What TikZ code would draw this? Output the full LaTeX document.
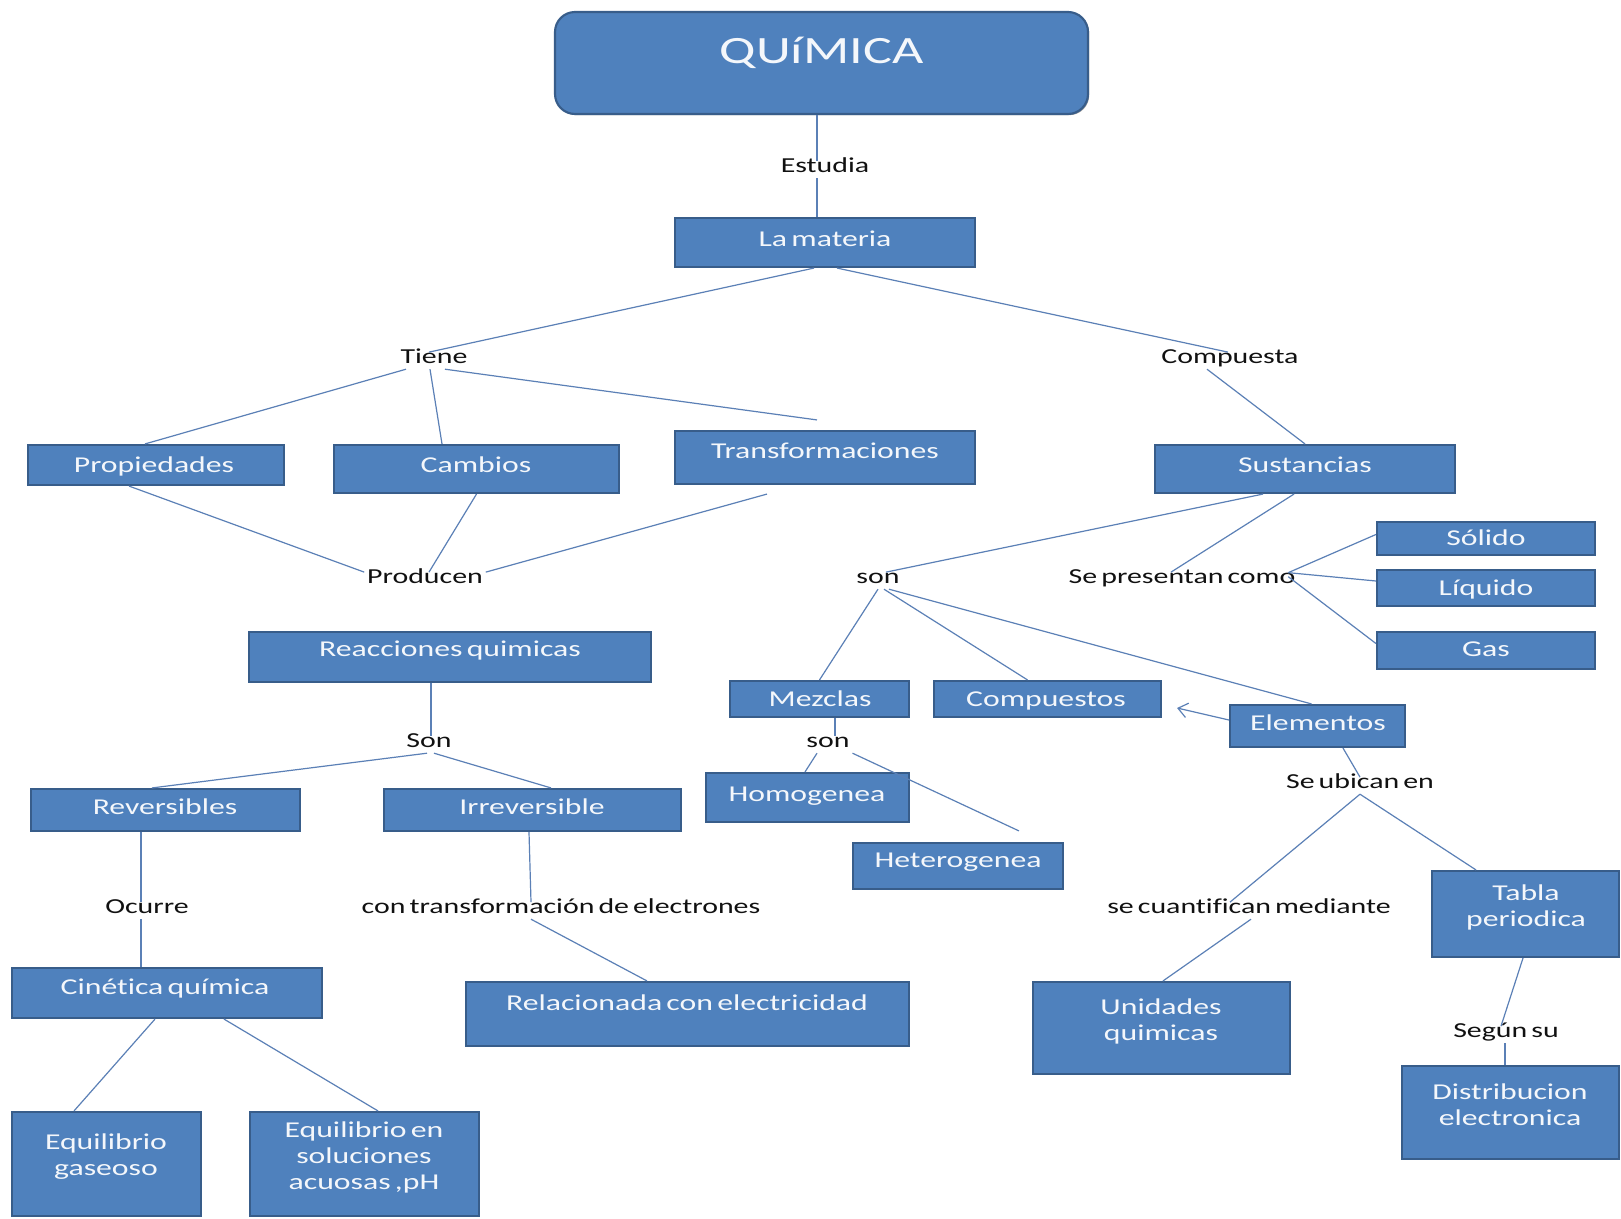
\documentclass[tikz,border=0pt]{standalone}
\usepackage{fontspec}
\setmainfont{Carlito}[FakeStretch=1.4,WordSpace=0.6,Ligatures=NoCommon]
\usetikzlibrary{calc,arrows.meta,shadows}
\definecolor{boxfill}{HTML}{4F81BD}
\definecolor{boxline}{HTML}{385D8A}
\definecolor{conn}{HTML}{5B80B6}
\definecolor{btext}{HTML}{F4F7FB}
\definecolor{ltext}{HTML}{111111}
\begin{document}
\begin{tikzpicture}[x=0.75pt,y=-0.75pt,
  box/.style={draw=boxline,fill=boxfill,line width=1.6pt,rectangle,inner sep=0pt,
    drop shadow={shadow xshift=0.9pt,shadow yshift=-0.9pt,opacity=0.4,fill=black}},
  bx/.style 2 args={minimum width=#1*0.75pt,minimum height=#2*0.75pt},
  btxt/.style={text=btext,inner sep=0pt,align=center,font=\fontsize{17}{19.5}\selectfont},
  bmulti/.style={btxt,yshift=-1.5pt},
  bone/.style={btxt,text height=0.66em,text depth=0.18em,yshift=-3.5pt},
  lbl/.style={text=ltext,inner sep=2pt,text height=0.66em,text depth=0.18em,yshift=-3.5pt,font=\fontsize{16}{19}\selectfont},
  cn/.style={draw=conn,line width=0.9pt}]
\useasboundingbox[fill=white] (0,0) rectangle (1621,1219);

% ---- boxes ----
\node[box,bx={533}{102},rounded corners=15pt] (quim) at (821.5,63) {};
\node[text=btext,inner sep=0pt,font=\fontsize{29}{34}\selectfont] (quimT) at (821.5,53) {QUíMICA};
\node[box,bx={300}{49}] (materia) at (825,242.5) {};
\node[bone] (materiaT) at (825,239) {La materia};
\node[box,bx={256}{40}] (prop) at (156,465) {};
\node[bone] (propT) at (154,465) {Propiedades};
\node[box,bx={285}{48}] (camb) at (476.5,469) {};
\node[bone] (cambT) at (476,465) {Cambios};
\node[box,bx={300}{53}] (trans) at (825,457.5) {};
\node[bone] (transT) at (825,451) {Transformaciones};
\node[box,bx={300}{48}] (sust) at (1305,469) {};
\node[bone] (sustT) at (1305,465) {Sustancias};
\node[box,bx={218}{33}] (solido) at (1486,538.5) {};
\node[bone] (solidoT) at (1486,538) {Sólido};
\node[box,bx={218}{36}] (liquido) at (1486,588) {};
\node[bone] (liquidoT) at (1486,588) {Líquido};
\node[box,bx={218}{37}] (gas) at (1486,650.5) {};
\node[bone] (gasT) at (1486,649) {Gas};
\node[box,bx={402}{50}] (reac) at (450,657) {};
\node[bone] (reacT) at (450,649) {Reacciones quimicas};
\node[box,bx={179}{36}] (mezclas) at (819.5,699) {};
\node[bone] (mezclasT) at (820,699) {Mezclas};
\node[box,bx={227}{36}] (comp) at (1047.5,699) {};
\node[bone] (compT) at (1046,699) {Compuestos};
\node[box,bx={175}{42}] (elem) at (1317.5,726) {};
\node[bone] (elemT) at (1318,723) {Elementos};
\node[box,bx={203}{49}] (homog) at (807.5,797.5) {};
\node[bone] (homogT) at (807,794) {Homogenea};
\node[box,bx={210}{46}] (heter) at (958,866) {};
\node[bone] (heterT) at (958,860) {Heterogenea};
\node[box,bx={269}{42}] (rev) at (165.5,810) {};
\node[bone] (revT) at (165,807) {Reversibles};
\node[box,bx={297}{42}] (irrev) at (532.5,810) {};
\node[bone] (irrevT) at (532,807) {Irreversible};
\node[box,bx={187}{86}] (tabla) at (1525.5,914) {};
\node[bmulti] (tablaT) at (1526,905) {Tabla\\periodica};
\node[box,bx={310}{50}] (cinet) at (167,993) {};
\node[bone] (cinetT) at (165,987) {Cinética química};
\node[box,bx={443}{64}] (relac) at (687.5,1014) {};
\node[bone] (relacT) at (687,1003) {Relacionada con electricidad};
\node[box,bx={257}{92}] (unid) at (1161.5,1028) {};
\node[bmulti] (unidT) at (1161,1019) {Unidades\\quimicas};
\node[box,bx={217}{93}] (distrib) at (1510.5,1112.5) {};
\node[bmulti] (distribT) at (1510,1103) {Distribucion\\electronica};
\node[box,bx={189}{104}] (eqgas) at (106.5,1164) {};
\node[bmulti] (eqgasT) at (106,1155) {Equilibrio\\gaseoso};
\node[box,bx={229}{104}] (eqsol) at (364.5,1164) {};
\node[bmulti] (eqsolT) at (364,1155) {Equilibrio en\\soluciones\\acuosas ,pH};

% ---- labels ----
\node[lbl] (estudia) at (825,165) {Estudia};
\node[lbl] (tiene) at (434,356) {Tiene};
\node[lbl] (compuesta) at (1230,356) {Compuesta};
\node[lbl] (producen) at (425,576) {Producen};
\node[lbl] (son1) at (878,576) {son};
\node[lbl] (sepres) at (1182,576) {Se presentan como};
\node[lbl] (son2) at (429,740) {Son};
\node[lbl] (son3) at (828,740) {son};
\node[lbl] (seubic) at (1360,781) {Se ubican en};
\node[lbl] (ocurre) at (147,906) {Ocurre};
\node[lbl] (contrans) at (561,906) {con transformación de electrones};
\node[lbl] (secuant) at (1249,906) {se cuantifican mediante};
\node[lbl] (segun) at (1506,1030) {Según su};

% ---- connectors ----
\draw[cn] ($(quim.south)+(-4.5,0)$) -- ($(estudia.north)+(-8,0)$);
\draw[cn] ($(estudia.south)+(-8,0)$) -- ($(materia.north)+(-8,0)$);
\draw[cn] ($(materia.south)+(-11,0)$) -- ($(tiene.north)+(-5,0)$);
\draw[cn] ($(materia.south)+(12,0)$) -- ($(compuesta.north)+(-2,0)$);
\draw[cn] ($(tiene.south)+(-28,0)$) -- ($(prop.north)+(-11,0)$);
\draw[cn] ($(tiene.south)+(-4,0)$) -- ($(camb.north)+(-34.5,0)$);
\draw[cn] ($(tiene.south)+(11,0)$) -- ($(trans.north)+(-8,-10)$);
\draw[cn] ($(compuesta.south)+(-23,0)$) -- (sust.north);
\draw[cn] ($(prop.south)+(-27,0)$) -- (producen.north west);
\draw[cn] (camb.south) -- ($(producen.north)+(4,0)$);
\draw[cn] ($(trans.south)+(-58,9)$) -- (producen.north east);
\draw[cn] ($(sust.south)+(-42,0)$) -- ($(son1.north)+(8,0)$);
\draw[cn] ($(sust.south)+(-11,0)$) -- ($(sepres.north)+(-11,0)$);
\coordinate (spr) at ($(sepres.east)+(-10,-8)$);
\draw[cn] (spr) -- ($(solido.west)+(0,-4)$);
\draw[cn] (spr) -- ($(liquido.west)+(0,-7)$);
\draw[cn] ($(spr)+(0,4)$) -- ($(gas.west)+(0,-7)$);
\draw[cn] (son1.south) -- (mezclas.north);
\draw[cn] ($(son1.south)+(6,0)$) -- ($(comp.north)+(-20,0)$);
\draw[cn] ($(son1.south)+(11,0)$) -- ($(elem.north)+(-6,0)$);
\draw[cn,-{Straight Barb[length=7pt,width=11pt]}] ($(elem.west)+(0,-6)$) -- ($(comp.east)+(15,9)$);
\draw[cn] ($(reac.south)+(-19,0)$) -- ($(son2.north)+(2,0)$);
\draw[cn] ($(son2.south)+(-2,0)$) -- ($(rev.north)+(-13.5,0)$);
\draw[cn] ($(son2.south)+(5,0)$) -- ($(irrev.north)+(18.5,0)$);
\draw[cn] ($(mezclas.south)+(15.5,0)$) -- ($(son3.north)+(7,0)$);
\draw[cn] ($(son3.south)+(-11,0)$) -- ($(homog.north)+(-2.5,0)$);
\draw[cn] (son3.south east) -- ($(heter.north)+(61,-11)$);
\draw[cn] ($(elem.south)+(25.5,0)$) -- (seubic.north);
\draw[cn] (seubic.south) -- ($(secuant.north)+(-19,0)$);
\draw[cn] (seubic.south) -- ($(tabla.north)+(-49.5,0)$);
\draw[cn] ($(secuant.south)+(2,0)$) -- ($(unid.north)+(1.5,0)$);
\draw[cn] ($(tabla.south)+(-2.5,0)$) -- ($(segun.north)+(-5,0)$);
\draw[cn] ($(segun.south)+(-1,0)$) -- ($(distrib.north)+(-5.5,0)$);
\draw[cn] ($(rev.south)+(-24.5,0)$) -- ($(ocurre.north)+(-6,0)$);
\draw[cn] ($(ocurre.south)+(-6,0)$) -- ($(cinet.north)+(-26,0)$);
\draw[cn] ($(irrev.south)+(-3.5,0)$) -- ($(contrans.north)+(-30,0)$);
\draw[cn] ($(contrans.south)+(-30,0)$) -- ($(relac.north)+(-40.5,0)$);
\draw[cn] ($(cinet.south)+(-12,0)$) -- ($(eqgas.north)+(-32.5,0)$);
\draw[cn] ($(cinet.south)+(57,0)$) -- ($(eqsol.north)+(13.5,0)$);
\end{tikzpicture}
\end{document}
